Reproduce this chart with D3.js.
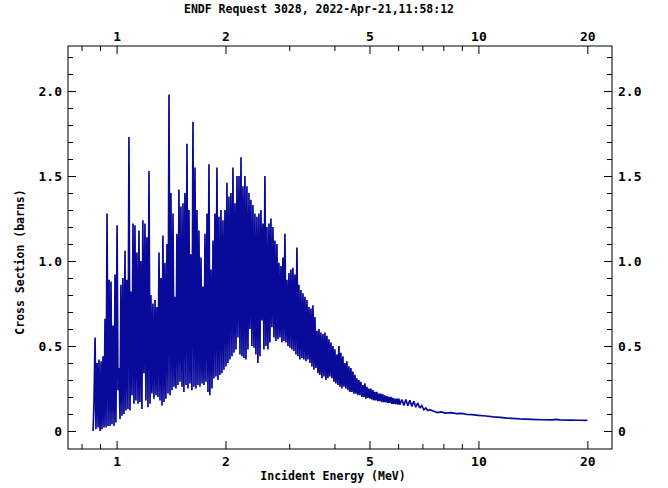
<!DOCTYPE html>
<html><head><meta charset="utf-8">
<script src="https://cdn.jsdelivr.net/npm/d3@7"></script>
<style>body{margin:0;background:#fff}svg{display:block}</style>
</head><body>
<svg id="c" width="668" height="488"></svg>
<script>
const title = "ENDF Request 3028, 2022-Apr-21,11:58:12";
const xLabel = "Incident Energy (MeV)";
const yLabel = "Cross Section (barns)";
const xMajorTicks = [1, 2, 5, 10, 20];
const xMinorTicks = [0.8, 0.9, 3, 4, 6, 7, 8, 9];
const yMajorTicks = [0, 0.5, 1.0, 1.5, 2.0];
const yTickLabels = ["0", "0.5", "1.0", "1.5", "2.0"];
const yMinorTicks = [0.1,0.2,0.3,0.4,0.6,0.7,0.8,0.9,1.1,1.2,1.3,1.4,1.6,1.7,1.8,1.9,2.1,2.2];

// incident energy (MeV)
const energy = [
0.861,0.866,0.872,0.877,0.883,0.889,0.894,0.900,0.906,0.911,
0.917,0.923,0.929,0.935,0.941,0.947,0.953,0.959,0.965,0.971,
0.977,0.984,0.990,0.996,1.003,1.009,1.016,1.022,1.028,1.035,
1.041,1.048,1.055,1.061,1.068,1.075,1.082,1.089,1.096,1.103,
1.110,1.117,1.124,1.131,1.138,1.146,1.153,1.160,1.167,1.175,
1.182,1.190,1.198,1.205,1.213,1.221,1.229,1.237,1.244,1.252,
1.260,1.268,1.277,1.285,1.293,1.301,1.310,1.318,1.326,1.335,
1.343,1.352,1.360,1.369,1.378,1.387,1.396,1.405,1.413,1.423,
1.432,1.441,1.450,1.459,1.468,1.478,1.487,1.497,1.506,1.516,
1.526,1.535,1.545,1.555,1.565,1.575,1.585,1.595,1.605,1.615,
1.626,1.636,1.647,1.657,1.668,1.678,1.689,1.700,1.711,1.722,
1.733,1.744,1.755,1.766,1.778,1.789,1.800,1.811,1.823,1.835,
1.847,1.858,1.870,1.882,1.894,1.906,1.918,1.930,1.943,1.955,
1.968,1.980,1.993,2.006,2.018,2.031,2.044,2.057,2.070,2.084,
2.097,2.111,2.124,2.138,2.151,2.165,2.179,2.193,2.207,2.221,
2.235,2.249,2.263,2.278,2.292,2.307,2.322,2.336,2.351,2.366,
2.381,2.397,2.412,2.427,2.443,2.458,2.474,2.490,2.506,2.522,
2.538,2.554,2.570,2.587,2.603,2.620,2.637,2.653,2.670,2.687,
2.705,2.722,2.739,2.757,2.774,2.792,2.810,2.828,2.846,2.864,
2.882,2.901,2.919,2.938,2.957,2.976,2.995,3.013,3.033,3.052,
3.072,3.091,3.111,3.131,3.151,3.171,3.191,3.211,3.232,3.253,
3.274,3.294,3.315,3.337,3.358,3.379,3.401,3.423,3.445,3.467,
3.489,3.511,3.533,3.556,3.579,3.602,3.625,3.647,3.671,3.694,
3.718,3.742,3.766,3.790,3.814,3.838,3.863,3.886,3.912,3.937,
3.962,3.987,4.012,4.038,4.064,4.090,4.116,4.141,4.167,4.194,
4.221,4.248,4.275,4.302,4.329,4.357,4.385,4.414,4.442,4.470,
4.499,4.527,4.556,4.585,4.614,4.644,4.674,4.704,4.734,4.764,
4.794,4.825,4.856,4.887,4.918,4.949,4.981,5.012,5.044,5.076,
5.108,5.141,5.174,5.207,5.240,5.274,5.308,5.341,5.375,5.409,
5.444,5.479,5.514,5.549,5.584,5.620,5.656,5.691,5.727,5.764,
5.801,5.838,5.875,5.913,5.951,5.988,6.026,6.065,
6.143,6.221,6.301,6.381,6.463,6.546,6.629,6.714,6.800,6.887,6.975,7.064,7.155,7.246,7.339,
7.5,7.7,7.9,8.1,8.4,8.7,9.0,9.3,9.6,10.0,10.5,11.0,11.5,12.0,13.0,14.0,15.0,16.0,16.4,16.8,18.0,19.0,20.0
];
// cross section (barns)
const xsec = [
0.00,0.16,0.55,0.01,0.40,0.02,0.42,0.00,0.41,0.01,
0.44,0.02,0.66,0.02,1.28,0.03,0.89,0.03,0.88,0.04,
0.62,0.03,0.92,0.05,1.21,0.24,0.37,0.07,0.86,0.09,
0.90,0.10,1.06,0.12,0.89,0.13,1.73,0.12,0.82,0.21,
1.22,0.16,1.21,0.18,1.05,0.16,1.18,0.17,1.00,0.13,
1.24,0.34,1.22,0.18,1.14,0.14,1.53,0.16,0.80,0.22,
0.75,0.19,0.77,0.21,0.73,0.20,1.05,0.18,0.90,0.15,
1.15,0.17,0.99,0.19,1.10,0.22,1.98,0.21,1.40,0.24,
1.28,0.26,0.79,0.25,1.16,0.27,1.42,0.29,1.32,0.26,
1.34,0.23,1.40,0.27,1.69,0.25,1.30,0.28,1.04,0.24,
1.82,0.26,1.55,0.25,1.30,0.27,1.18,0.26,1.02,0.28,
0.85,0.27,1.16,0.29,1.28,0.23,1.57,0.21,0.95,0.25,
1.12,0.31,1.28,0.32,1.55,0.30,1.26,0.33,1.30,0.34,
1.24,0.36,1.30,0.38,1.46,0.40,1.38,0.42,1.40,0.44,
1.55,0.46,1.34,0.48,1.50,0.55,1.50,0.45,1.61,0.44,
1.44,0.43,1.50,0.42,1.44,0.48,1.40,0.60,1.36,0.50,
1.33,0.49,1.28,0.45,1.26,0.40,1.28,0.44,1.30,0.65,
1.22,0.48,1.50,0.50,1.20,0.48,1.22,0.52,1.25,0.61,
1.20,0.55,1.12,0.53,1.10,0.54,0.99,0.55,0.97,0.52,
1.02,0.53,1.16,0.52,0.89,0.50,0.93,0.49,0.95,0.48,
0.96,0.47,0.92,0.45,1.08,0.44,0.86,0.42,0.83,0.43,
0.81,0.42,0.79,0.41,0.77,0.42,0.73,0.40,0.72,0.38,
0.74,0.36,0.67,0.37,0.59,0.34,0.60,0.33,0.58,0.31,
0.57,0.32,0.58,0.30,0.56,0.31,0.54,0.32,0.52,0.31,
0.50,0.29,0.48,0.28,0.45,0.27,0.50,0.26,0.46,0.25,
0.44,0.26,0.40,0.25,0.41,0.24,0.38,0.23,0.37,0.23,
0.35,0.22,0.33,0.22,0.31,0.21,0.30,0.21,0.29,0.20,
0.27,0.20,0.28,0.19,0.26,0.195,0.25,0.19,0.25,0.185,
0.24,0.18,0.23,0.18,0.23,0.175,0.22,0.175,0.22,0.17,
0.215,0.17,0.21,0.168,0.205,0.165,0.20,0.165,0.20,0.16,
0.195,0.16,0.19,0.158,0.19,0.155,0.19,0.155,
0.185,0.15,0.185,0.148,0.18,0.145,0.175,0.14,0.165,0.135,0.15,0.125,0.135,0.12,0.125,
0.118,0.108,0.112,0.105,0.108,0.102,0.104,0.097,0.096,0.092,0.088,0.083,0.080,0.076,0.071,0.068,0.066,0.065,0.068,0.065,0.064,0.063,0.063
];

const W = 668, H = 488;
const L = 68, R = 612, T = 46, B = 449;
const svg = d3.select("#c");
svg.append("rect").attr("width", W).attr("height", H).attr("fill", "#fff");

const x = d3.scaleLog().domain([0.734, 23.4]).range([L, R]);
const y = d3.scaleLinear().domain([-0.106, 2.265]).range([B, T]);

const font = "'DejaVu Sans Mono', 'Liberation Mono', monospace";
const color = "#0a0a9a";

svg.append("defs").append("clipPath").attr("id", "clip")
  .append("rect").attr("x", L).attr("y", T).attr("width", R - L).attr("height", B - T);

const n = Math.min(energy.length, xsec.length);
const data = energy.slice(0, n).map((e, i) => ({e, s: xsec[i]}));
svg.append("path").datum(data)
  .attr("clip-path", "url(#clip)")
  .attr("fill", "none").attr("stroke", color).attr("stroke-width", 1.7)
  .attr("stroke-linejoin", "miter").attr("stroke-miterlimit", 2)
  .attr("d", d3.line().x(d => x(d.e)).y(d => y(d.s)));

function styleAxis(g) {
  g.select(".domain").remove();
  g.selectAll("line").attr("stroke", "#000").attr("stroke-width", 1);
  g.selectAll("text").attr("font-family", font).attr("font-size", 13)
    .attr("font-weight", "bold").attr("fill", "#000");
}
const xfmt = d => String(d);
svg.append("g").attr("transform", `translate(0,${B})`)
  .call(d3.axisBottom(x).tickValues(xMajorTicks).tickFormat(xfmt).tickSize(-8).tickPadding(8)).call(styleAxis);
svg.append("g").attr("transform", `translate(0,${B})`)
  .call(d3.axisBottom(x).tickValues(xMinorTicks).tickFormat("").tickSize(-5)).call(styleAxis);
svg.append("g").attr("transform", `translate(0,${T})`)
  .call(d3.axisTop(x).tickValues(xMajorTicks).tickFormat(xfmt).tickSize(-8).tickPadding(5)).call(styleAxis);
svg.append("g").attr("transform", `translate(0,${T})`)
  .call(d3.axisTop(x).tickValues(xMinorTicks).tickFormat("").tickSize(-5)).call(styleAxis);
const yfmt = (d, i) => yTickLabels[i];
svg.append("g").attr("transform", `translate(${L},0)`)
  .call(d3.axisLeft(y).tickValues(yMajorTicks).tickFormat(yfmt).tickSize(-8).tickPadding(6)).call(styleAxis);
svg.append("g").attr("transform", `translate(${L},0)`)
  .call(d3.axisLeft(y).tickValues(yMinorTicks).tickFormat("").tickSize(-5)).call(styleAxis);
svg.append("g").attr("transform", `translate(${R},0)`)
  .call(d3.axisRight(y).tickValues(yMajorTicks).tickFormat(yfmt).tickSize(-8).tickPadding(6)).call(styleAxis);
svg.append("g").attr("transform", `translate(${R},0)`)
  .call(d3.axisRight(y).tickValues(yMinorTicks).tickFormat("").tickSize(-5)).call(styleAxis);

svg.append("rect").attr("x", L).attr("y", T).attr("width", R - L).attr("height", B - T)
  .attr("fill", "none").attr("stroke", "#000").attr("stroke-width", 1);

svg.append("text").attr("x", 319).attr("y", 13).attr("text-anchor", "middle")
  .attr("font-family", font).attr("font-size", 11.5).attr("font-weight", "bold").text(title);
svg.append("text").attr("x", 333).attr("y", 480).attr("text-anchor", "middle")
  .attr("font-family", font).attr("font-size", 11.5).attr("font-weight", "bold").text(xLabel);
svg.append("text").attr("transform", "translate(24,262) rotate(-90)").attr("text-anchor", "middle")
  .attr("font-family", font).attr("font-size", 11.5).attr("font-weight", "bold").text(yLabel);
</script>
</body></html>
